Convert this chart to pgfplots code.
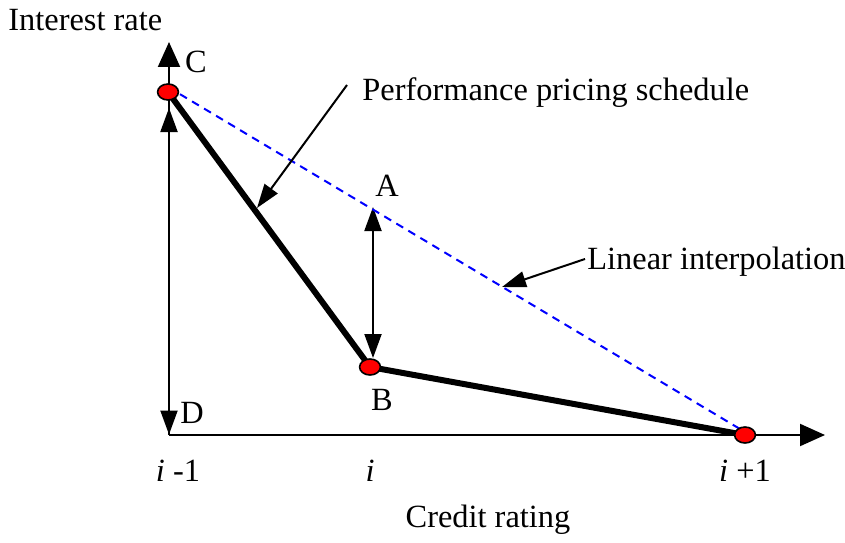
\documentclass[border=0pt]{standalone}
\usepackage{fontspec}
\setmainfont{Liberation Serif}
\usepackage{pgfplots}
\pgfplotsset{compat=1.18}
\usetikzlibrary{arrows.meta}

\begin{document}
\begin{tikzpicture}[font=\fontsize{16.2}{19}\selectfont]
\begin{axis}[x=0.5pt,y=0.5pt,xmin=0,xmax=845,ymin=0,ymax=542,
  hide axis,clip=false,scale only axis]
% axes
\addplot[black, line width=1pt, -{Triangle[length=12.5pt,width=11pt]}] coordinates {(169,107) (169,500)};
\addplot[black, line width=1pt, -{Triangle[length=12.5pt,width=11pt]}] coordinates {(169,107) (825,107)};
% D-C double arrow
\addplot[black, line width=1pt, {Triangle[length=12pt,width=8.5pt]}-{Triangle[length=12pt,width=8.5pt]}] coordinates {(169,107.5) (169,434)};
% A-B double arrow
\addplot[black, line width=1pt, {Triangle[length=12pt,width=8.5pt]}-{Triangle[length=12pt,width=8.5pt]}] coordinates {(373,184) (373,335)};
% linear interpolation
\addplot[blue, line width=1pt, dash pattern=on 4pt off 3pt] coordinates {(168,455) (745,110)};
% performance pricing schedule
\addplot[black, line width=3pt, line join=miter] coordinates {(168,450) (370,175) (745,107)};
% points
\addplot[only marks, mark=*, mark size=4pt, mark options={fill=red, draw=black, line width=0.8pt, xscale=1.3}] coordinates {(168,450) (370,175) (745,107)};
% annotation arrows
\addplot[black, line width=1pt, -{Triangle[length=12pt,width=8pt]}] coordinates {(347,457) (257,334)};
\addplot[black, line width=1pt, -{Triangle[length=12pt,width=8pt]}] coordinates {(585,283) (502,255)};
% labels
\node[anchor=west, inner sep=0] at (axis cs:8,522) {Interest rate};
\node[inner sep=0] at (axis cs:196,480) {C};
\node[inner sep=0] at (axis cs:387,356) {A};
\node[inner sep=0] at (axis cs:382,142) {B};
\node[inner sep=0] at (axis cs:192,129) {D};
\node[inner sep=0] at (axis cs:178,71) {\textit{i} -1};
\node[inner sep=0] at (axis cs:370,71) {\textit{i}};
\node[inner sep=0] at (axis cs:745,71) {\textit{i} +1};
\node[inner sep=0] at (axis cs:488,22) {Credit rating};
\node[anchor=west, inner sep=0] at (axis cs:362,449) {Performance pricing schedule};
\node[anchor=west, inner sep=0] at (axis cs:587,280) {Linear interpolation};
\end{axis}
\pgfresetboundingbox
\path (current axis.south west) rectangle (current axis.north east);
\end{tikzpicture}
\end{document}
